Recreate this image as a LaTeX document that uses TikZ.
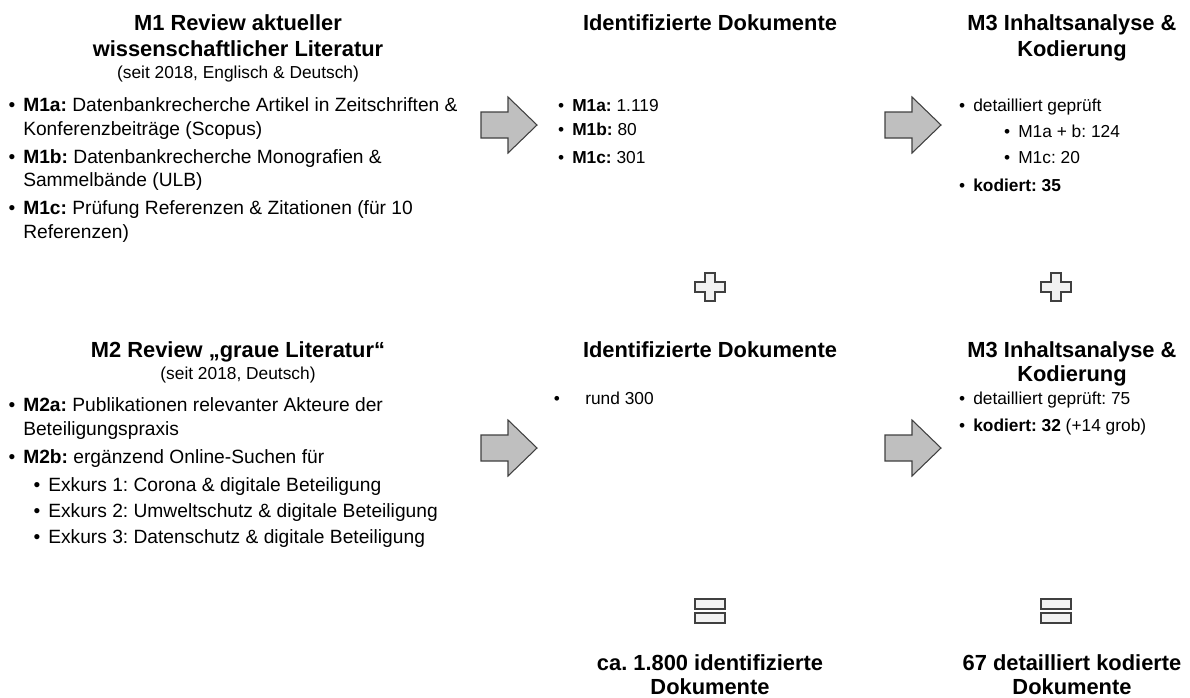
\documentclass[tikz,border=0pt]{standalone}
\usepackage{fontspec}
\setmainfont{Liberation Sans}
\frenchspacing
\newcommand{\itm}{\llap{\textbullet\hskip 6pt}}
\tikzset{
  txt/.style={inner sep=0pt, anchor=base west, font=\fontsize{13}{15}\selectfont},
  txtl/.style={txt, font=\fontsize{14.4}{16}\selectfont},
  head/.style={inner sep=0pt, anchor=base, font=\bfseries\fontsize{16.4}{19}\selectfont},
  subhead/.style={inner sep=0pt, anchor=base, font=\fontsize{13}{15}\selectfont},
  arrowbox/.style={draw=black!75, fill=black!25, line width=0.8pt, line join=miter},
  opbox/.style={draw=black!75, fill=black!5, line width=1.5pt},
  bigarrow/.pic={\draw[arrowbox] (-28,-13) -- (-1,-13) -- (-1,-28) -- (28,0) -- (-1,28) -- (-1,13) -- (-28,13) -- cycle;},
  plussign/.pic={\draw[opbox] (-5,-14) -- (5,-14) -- (5,-5) -- (15,-5) -- (15,5) -- (5,5) -- (5,14) -- (-5,14) -- (-5,5) -- (-15,5) -- (-15,-5) -- (-5,-5) -- cycle;},
  equalsign/.pic={\draw[opbox] (-15,-12) rectangle (15,-2); \draw[opbox] (-15,2) rectangle (15,12);}
}
\begin{document}
\begin{tikzpicture}[x=0.75pt,y=-0.75pt]
\useasboundingbox (0,0) rectangle (1190,697);

% M1
\node[head] (m1h1) at (238,30) {M1 Review aktueller};
\node[head] (m1h2) at (238,56) {wissenschaftlicher Literatur};
\node[subhead] (m1h3) at (238,78) {(seit 2018, Englisch \& Deutsch)};
\node[txtl] (m1a) at (23,111) {\itm\textbf{M1a:} Datenbankrecherche Artikel in Zeitschriften \&};
\node[txtl] (m1a2) at (23,135) {Konferenzbeiträge (Scopus)};
\node[txtl] (m1b) at (23,163) {\itm\textbf{M1b:} Datenbankrecherche Monografien \&};
\node[txtl] (m1b2) at (23,186) {Sammelbände (ULB)};
\node[txtl] (m1c) at (23,214) {\itm\textbf{M1c:} Prüfung Referenzen \& Zitationen (für 10};
\node[txtl] (m1c2) at (23,238) {Referenzen)};

% M2
\node[head] (m2h1) at (238,357) {M2 Review „graue Literatur“};
\node[subhead] (m2h2) at (238,379) {(seit 2018, Deutsch)};
\node[txtl] (m2a) at (23,411) {\itm\textbf{M2a:} Publikationen relevanter Akteure der};
\node[txtl] (m2a2) at (23,435) {Beteiligungspraxis};
\node[txtl] (m2b) at (23,463) {\itm\textbf{M2b:} ergänzend Online-Suchen für};
\node[txtl] (ex1) at (48,491) {\itm Exkurs 1: Corona \& digitale Beteiligung};
\node[txtl] (ex2) at (48,517) {\itm Exkurs 2: Umweltschutz \& digitale Beteiligung};
\node[txtl] (ex3) at (48,543) {\itm Exkurs 3: Datenschutz \& digitale Beteiligung};

% identifizierte Dokumente
\node[head] (id1h) at (710,30) {Identifizierte Dokumente};
\node[txt] (id1a) at (572,111) {\itm\textbf{M1a:} 1.119};
\node[txt] (id1b) at (572,135) {\itm\textbf{M1b:} 80};
\node[txt] (id1c) at (572,163) {\itm\textbf{M1c:} 301};
\node[head] (id2h) at (710,357) {Identifizierte Dokumente};
\node[txt] (id2a) at (585,404) {\llap{\textbullet\hskip 19pt}rund 300};

% M3
\node[head] (k1h1) at (1072,30) {M3 Inhaltsanalyse \&};
\node[head] (k1h2) at (1072,56) {Kodierung};
\node[txt] (k1a) at (973,111) {\itm detailliert geprüft};
\node[txt] (k1b) at (1018,137) {\itm M1a + b: 124};
\node[txt] (k1c) at (1018,163) {\itm M1c: 20};
\node[txt] (k1d) at (973,191) {\itm\textbf{kodiert: 35}};
\node[head] (k2h1) at (1072,357) {M3 Inhaltsanalyse \&};
\node[head] (k2h2) at (1072,381) {Kodierung};
\node[txt] (k2a) at (973,404) {\itm detailliert geprüft: 75};
\node[txt] (k2b) at (973,431) {\itm\textbf{kodiert: 32} (+14 grob)};

% Summen
\node[head] (sum1a) at (710,670) {ca. 1.800 identifizierte};
\node[head] (sum1b) at (710,694) {Dokumente};
\node[head] (sum2a) at (1072,670) {67 detailliert kodierte};
\node[head] (sum2b) at (1072,694) {Dokumente};

% Pfeile und Zeichen
\pic at (509,125) {bigarrow};
\pic at (913,125) {bigarrow};
\pic at (509,448) {bigarrow};
\pic at (913,448) {bigarrow};
\pic at (710,287) {plussign};
\pic at (1056,287) {plussign};
\pic at (710,611) {equalsign};
\pic at (1056,611) {equalsign};
\end{tikzpicture}
\end{document}
